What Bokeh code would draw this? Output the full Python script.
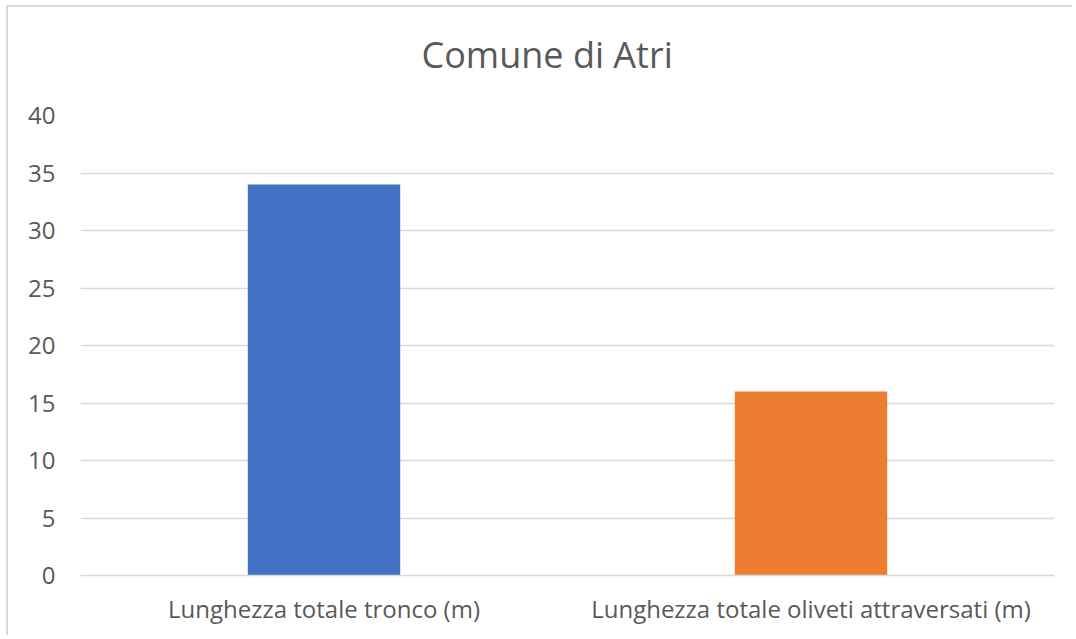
from bokeh.plotting import figure
from bokeh.embed import file_html
from bokeh.resources import INLINE
from bokeh.models import ColumnDataSource, FixedTicker, Title

categories = ["Lunghezza totale tronco (m)", "Lunghezza totale oliveti attraversati (m)"]
values = [34, 16]
colors = ["#4472C4", "#ED7D31"]
y_ticks = [0, 5, 10, 15, 20, 25, 30, 35, 40]
title_text = "Comune di Atri"

src = ColumnDataSource(dict(cat=categories, val=values, col=colors))

p = figure(x_range=categories, y_range=(0, 40), width=1066, height=630,
           output_backend="svg", toolbar_location=None,
           min_border_left=72, min_border_right=20, min_border_top=108,
           min_border_bottom=62)
p.title = None
p.styles = {"margin-left": "6px", "margin-top": "5px",
            "border-top": "2px solid #D9D9D9", "border-left": "2px solid #D9D9D9"}

p.vbar(x="cat", top="val", width=0.313, color="col", source=src, line_color=None)

# spacer between the frame and the title
spacer = Title(text=" ", text_font_size="1px", text_color="white", standoff=34)
p.add_layout(spacer, "above")
main_title = Title(text=title_text, text_font="Open Sans", text_font_size="36px",
                   text_font_style="normal", text_color="#595959",
                   align="left", offset=341, standoff=0)
p.add_layout(main_title, "above")

p.outline_line_color = None
p.xgrid.grid_line_color = None
p.ygrid.grid_line_color = "#D9D9D9"
p.ygrid.grid_line_width = 1.5

p.yaxis.ticker = FixedTicker(ticks=y_ticks)
p.yaxis.axis_line_color = None
p.yaxis.major_tick_line_color = None
p.yaxis.minor_tick_line_color = None
p.yaxis.major_tick_out = 0
p.yaxis.major_label_standoff = 25
p.yaxis.major_label_text_font = "Open Sans"
p.yaxis.major_label_text_font_size = "24px"
p.yaxis.major_label_text_color = "#595959"

p.xaxis.axis_line_color = "#D9D9D9"
p.xaxis.axis_line_width = 1.5
p.xaxis.major_tick_line_color = None
p.xaxis.minor_tick_line_color = None
p.xaxis.major_tick_out = 0
p.xaxis.major_label_standoff = 16
p.xaxis.major_label_text_font = "Open Sans"
p.xaxis.major_label_text_font_size = "24px"
p.xaxis.major_label_text_color = "#595959"

p.x_range.range_padding = 0
p.background_fill_color = "white"
p.border_fill_color = "white"

open("out.html", "w").write(file_html(p, INLINE))
